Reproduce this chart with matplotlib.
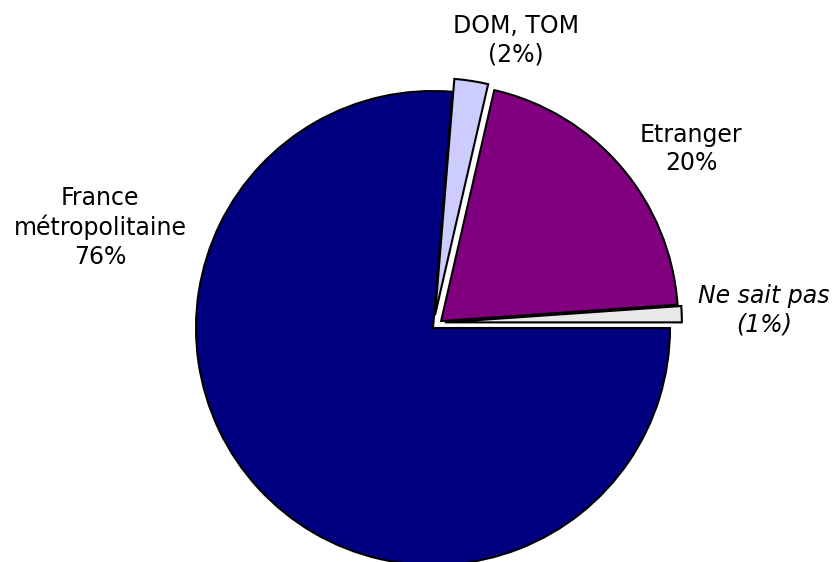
import matplotlib
matplotlib.use("Agg")
import matplotlib.pyplot as plt

# -------------------------------
# Data (clockwise from 3 o'clock)
# -------------------------------
labels = ["France\nmétropolitaine\n76%", "DOM, TOM\n(2%)", "Etranger\n20%", "Ne sait pas\n(1%)"]
values = [76.3, 2.3, 20.3, 1.1]
colors_ = ["#000080", "#ccccff", "#800080", "#e8e8e8"]
explode = [0.0, 0.055, 0.045, 0.05]

# label positions (data units, radius = 1)
label_xy = [(-1.405, 0.424), (0.35, 1.215), (1.089, 0.755), (1.397, 0.076)]
label_style = ["normal", "normal", "normal", "italic"]

# -------------------------------
# Figure
# -------------------------------
fig = plt.figure(figsize=(8.34, 5.62), dpi=100)
ax = fig.add_axes([0, 0, 1, 1])

wedges, _ = ax.pie(values, colors=colors_, explode=explode, startangle=0, counterclock=False,
                   wedgeprops=dict(edgecolor="black", linewidth=1.5))

# small slice sits a little higher than a plain explode puts it
cx, cy = wedges[3].center
wedges[3].set_center((cx, cy + 0.022))

for txt, (x, y), st in zip(labels, label_xy, label_style):
    ax.text(x, y, txt, ha="center", va="center", fontsize=17, fontstyle=st,
            linespacing=1.22, family="DejaVu Sans")

ax.set_xlim(-433 / 237, (834 - 433) / 237)
ax.set_ylim((328 - 562) / 237, 328 / 237)
ax.set_aspect("equal")
ax.axis("off")

fig.savefig("out.png", dpi=100)
